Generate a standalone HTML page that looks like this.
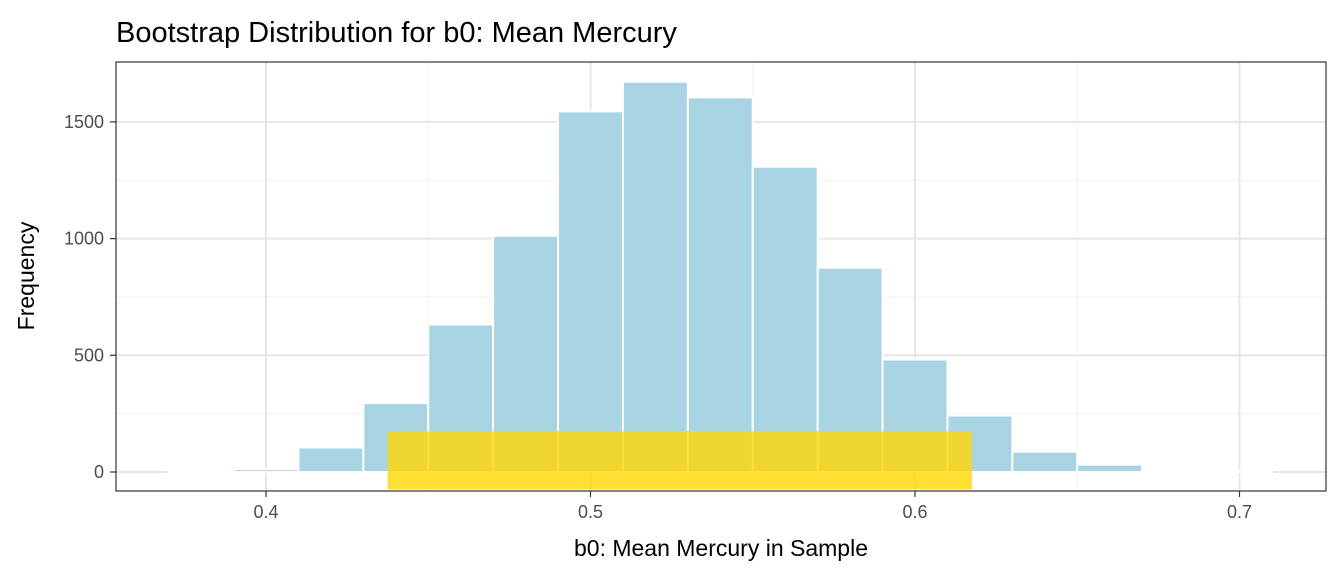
<!DOCTYPE html>
<html><head><meta charset="utf-8"><style>
body{margin:0;background:#fff;font-family:"Liberation Sans",sans-serif;}
</style></head><body>
<svg id="chart" width="1344" height="576" xmlns="http://www.w3.org/2000/svg" font-family="Liberation Sans, sans-serif">
<text x="116" y="42" font-size="29" fill="#000">Bootstrap Distribution for b0: Mean Mercury</text>
<g id="grid"></g><g id="bars"></g><g id="ci"></g><g id="axes"></g>
<rect x="116" y="62" width="1210" height="429" fill="none" stroke="#333" stroke-width="1.2"/>
<text x="721" y="556" font-size="23" text-anchor="middle">b0: Mean Mercury in Sample</text>
<text transform="translate(34,276) rotate(-90)" font-size="23" text-anchor="middle">Frequency</text>
</svg>
<script>
const binStarts=[0.37,0.39,0.41,0.43,0.45,0.47,0.49,0.51,0.53,0.55,0.57,0.59,0.61,0.63,0.65,0.67,0.69];
const counts=[1,12,105,295,632,1012,1545,1672,1605,1308,875,482,242,87,32,1,2];
const binWidth=0.02;
const ciBounds=[0.4375,0.6175];
const ciHeight=[-75,175];
const xTicks=[0.4,0.5,0.6,0.7];
const xMinor=[0.35,0.45,0.55,0.65];
const yTicks=[0,500,1000,1500];
const yMinor=[250,750,1250];
const NS="http://www.w3.org/2000/svg";
const X=v=>266+(v-0.4)*3245;
const Y=v=>472-v*0.2334;
function mk(tag,attrs,parent){const e=document.createElementNS(NS,tag);for(const k in attrs)e.setAttribute(k,attrs[k]);document.getElementById(parent).appendChild(e);return e;}
xMinor.forEach(v=>{if(X(v)<116)return;const e=mk('line',{x1:X(v),x2:X(v),y1:62,y2:491,stroke:'#f0f0f0','stroke-width':1},'grid');

});
yMinor.forEach(v=>{const e=mk('line',{x1:116,x2:1326,y1:Y(v),y2:Y(v),stroke:'#f0f0f0','stroke-width':1},'grid');

});
xTicks.forEach(v=>{const e=mk('line',{x1:X(v),x2:X(v),y1:62,y2:491,stroke:'#e6e6e6','stroke-width':2},'grid');


const t=mk('line',{x1:X(v),x2:X(v),y1:491,y2:497,stroke:'#333','stroke-width':1.2},'axes');


const l=mk('text',{x:X(v),y:518,'font-size':18,fill:'#4d4d4d','text-anchor':'middle'},'axes');l.textContent=v.toFixed(1);

});
yTicks.forEach(v=>{const e=mk('line',{x1:116,x2:1326,y1:Y(v),y2:Y(v),stroke:'#e6e6e6','stroke-width':2},'grid');


const t=mk('line',{x1:110,x2:116,y1:Y(v),y2:Y(v),stroke:'#333','stroke-width':1.2},'axes');


const l=mk('text',{x:104,y:Y(v)+6,'font-size':18,fill:'#4d4d4d','text-anchor':'end'},'axes');l.textContent=v;

});
binStarts.forEach((s,i)=>{const e=mk('rect',{x:X(s),y:Y(counts[i]),width:X(s+binWidth)-X(s),height:Y(0)-Y(counts[i]),fill:'#a8d3e3',stroke:'#fff','stroke-width':2},'bars');

});
const c=mk('rect',{x:X(ciBounds[0]),y:Y(ciHeight[1]),width:X(ciBounds[1])-X(ciBounds[0]),height:Y(ciHeight[0])-Y(ciHeight[1]),fill:'#ffd700','fill-opacity':0.8},'ci');


</script>
</body></html>
